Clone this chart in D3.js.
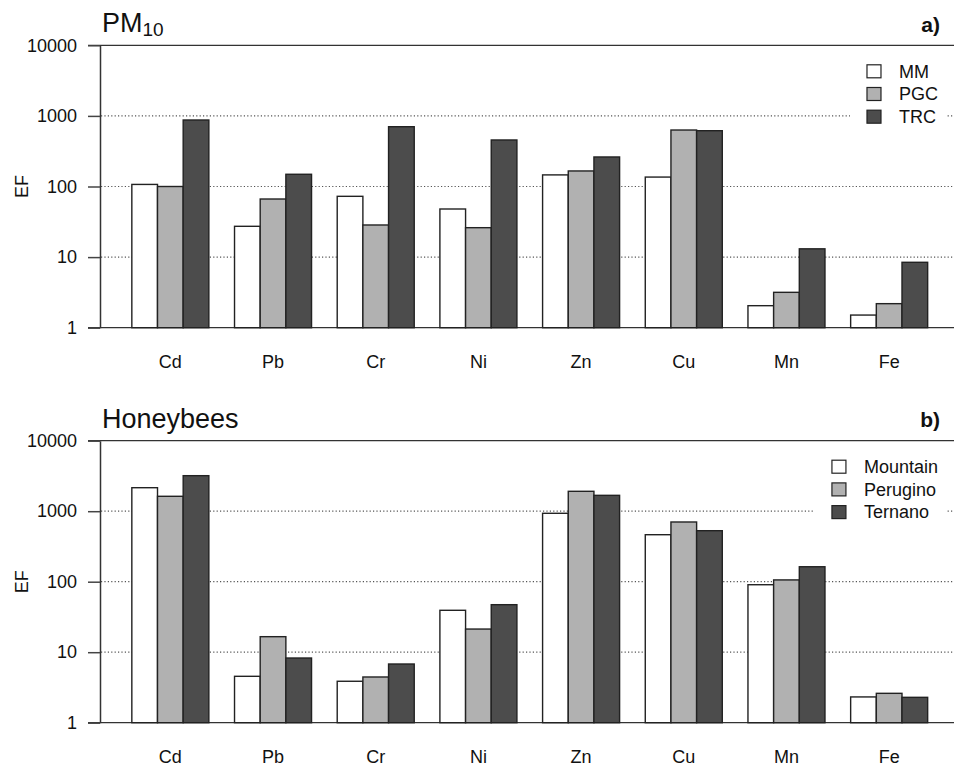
<!DOCTYPE html>
<html>
<head>
<meta charset="utf-8">
<script src="https://cdn.jsdelivr.net/npm/d3@7"></script>
<style>
  body { margin: 0; background: #fff; }
  svg text { font-family: "Liberation Sans", Arial, Helvetica, sans-serif; fill: #111; }
</style>
</head>
<body>
<svg id="chart" width="954" height="767"></svg>
<script>
// elements on the x axis (same in both panels)
var elements = ["Cd", "Pb", "Cr", "Ni", "Zn", "Cu", "Mn", "Fe"];
var yTicks = [1, 10, 100, 1000, 10000];

// panel a) PM10 enrichment factors
var pmSeries = ["MM", "PGC", "TRC"];
var pmMM  = [107, 27.3, 72.6, 48, 146, 136, 2.05, 1.51];
var pmPGC = [100, 66.5, 28.5, 26.1, 166, 631, 3.17, 2.19];
var pmTRC = [875, 149, 703, 456, 262, 617, 13.1, 8.44];

// panel b) honeybees enrichment factors
var beeSeries = ["Mountain", "Perugino", "Ternano"];
var beeMountain = [2154, 4.55, 3.87, 39.3, 934, 464, 90.6, 2.32];
var beePerugino = [1627, 16.6, 4.45, 21.3, 1915, 703, 106, 2.61];
var beeTernano  = [3190, 8.27, 6.8, 47.2, 1679, 529, 163, 2.29];

var fills = ["#ffffff", "#b1b1b1", "#4c4c4c"];

var svg = d3.select("#chart");

// draw one panel
function drawPanel(opts) {
    var g = svg.append("g");

    var x = d3.scaleBand()
        .domain(elements)
        .range([119, 940.5])
        .paddingInner(0.25)
        .paddingOuter(0.125);

    var xs = d3.scaleBand()
        .domain(opts.series)
        .range([0, x.bandwidth()]);

    var y = d3.scaleLog()
        .domain([1, 10000])
        .range([opts.bottom, opts.top]);

    // horizontal lines, solid at the ends, dotted in between
    g.selectAll("line.grid")
        .data(yTicks)
        .enter().append("line")
        .attr("class", "grid")
        .attr("x1", function (d) { return (d === 1 || d === 10000) ? 88 : 101; })
        .attr("x2", 954)
        .attr("y1", function (d) { return y(d); })
        .attr("y2", function (d) { return y(d); })
        .attr("stroke", function (d) { return (d === 1 || d === 10000) ? "#333" : "#555"; })
        .attr("stroke-width", function (d) { return (d === 1 || d === 10000) ? 1.3 : 1.2; })
        .attr("stroke-dasharray", function (d) { return (d === 1 || d === 10000) ? null : "1.2,2.2"; });

    // left axis
    var axis = d3.axisLeft(y)
        .tickValues(yTicks)
        .tickFormat(d3.format("d"))
        .tickSize(12)
        .tickSizeOuter(0)
        .tickPadding(11);

    var ag = g.append("g")
        .attr("transform", "translate(100,0)")
        .call(axis);
    ag.select(".domain").attr("stroke", "#333").attr("stroke-width", 1.5);
    ag.selectAll(".tick line").attr("stroke", "#444").attr("stroke-width", 1.5);
    ag.selectAll(".tick text")
        .attr("font-size", "18px")
        .attr("fill", "#111")
        .style("font-family", "'Liberation Sans', Arial, sans-serif");

    // legend with white background (covers gridlines)
    var lg = g.append("g");
    var box = lg.append("rect").attr("fill", "#fff");
    var rowY = function (i) { return opts.top + 26 + i * 22.7; };
    var labels = lg.selectAll("text.leg")
        .data(opts.series)
        .enter().append("text")
        .attr("class", "leg")
        .attr("font-size", "18px")
        .attr("dy", "0.35em")
        .attr("y", function (d, i) { return rowY(i); })
        .text(function (d) { return d; });
    var maxW = d3.max(labels.nodes(), function (n) { return n.getComputedTextLength(); });
    var textX = 938 - maxW;
    labels.attr("x", textX);
    lg.selectAll("rect.key")
        .data(opts.series)
        .enter().append("rect")
        .attr("class", "key")
        .attr("x", textX - 32)
        .attr("y", function (d, i) { return rowY(i) - 6.5; })
        .attr("width", 14)
        .attr("height", 13)
        .attr("fill", function (d, i) { return fills[i]; })
        .attr("stroke", "#222")
        .attr("stroke-width", 1.2);
    box.attr("x", textX - 49)
        .attr("y", opts.top + 5)
        .attr("width", 947 - (textX - 49))
        .attr("height", rowY(2) + 20 - (opts.top + 5));

    // bars
    var groups = g.selectAll("g.grp")
        .data(elements)
        .enter().append("g")
        .attr("class", "grp")
        .attr("transform", function (d) { return "translate(" + x(d) + ",0)"; });

    groups.selectAll("rect")
        .data(function (d, i) {
            return opts.series.map(function (s, k) {
                return { key: s, value: opts.values[k][i], k: k };
            });
        })
        .enter().append("rect")
        .attr("x", function (d) { return xs(d.key); })
        .attr("width", xs.bandwidth())
        .attr("y", function (d) { return y(d.value); })
        .attr("height", function (d) { return y(1) - y(d.value); })
        .attr("fill", function (d) { return fills[d.k]; })
        .attr("stroke", "#222")
        .attr("stroke-width", 1.4);

    // category labels
    g.selectAll("text.cat")
        .data(elements)
        .enter().append("text")
        .attr("class", "cat")
        .attr("x", function (d) { return x(d) + x.bandwidth() / 2; })
        .attr("y", opts.bottom + 40.5)
        .attr("text-anchor", "middle")
        .attr("font-size", "18px")
        .text(function (d) { return d; });

    // y label
    g.append("text")
        .attr("transform", "translate(28," + ((opts.top + opts.bottom) / 2) + ") rotate(-90)")
        .attr("text-anchor", "middle")
        .attr("font-size", "18px")
        .text("EF");

    // title
    var t = g.append("text")
        .attr("x", 102)
        .attr("y", opts.top - 13)
        .attr("font-size", "27px");
    t.append("tspan").text(opts.title);
    if (opts.sub) {
        t.append("tspan").attr("font-size", "19px").attr("dy", 4).text(opts.sub);
    }

    // panel letter
    g.append("text")
        .attr("x", 940)
        .attr("y", opts.top - 13.5)
        .attr("text-anchor", "end")
        .attr("font-size", "21px")
        .attr("font-weight", "bold")
        .text(opts.letter);
}

drawPanel({
    top: 45.3, bottom: 327.7,
    series: pmSeries, values: [pmMM, pmPGC, pmTRC],
    title: "PM", sub: "10", letter: "a)"
});

drawPanel({
    top: 440.7, bottom: 722.7,
    series: beeSeries, values: [beeMountain, beePerugino, beeTernano],
    title: "Honeybees", sub: null, letter: "b)"
});
</script>
</body>
</html>
